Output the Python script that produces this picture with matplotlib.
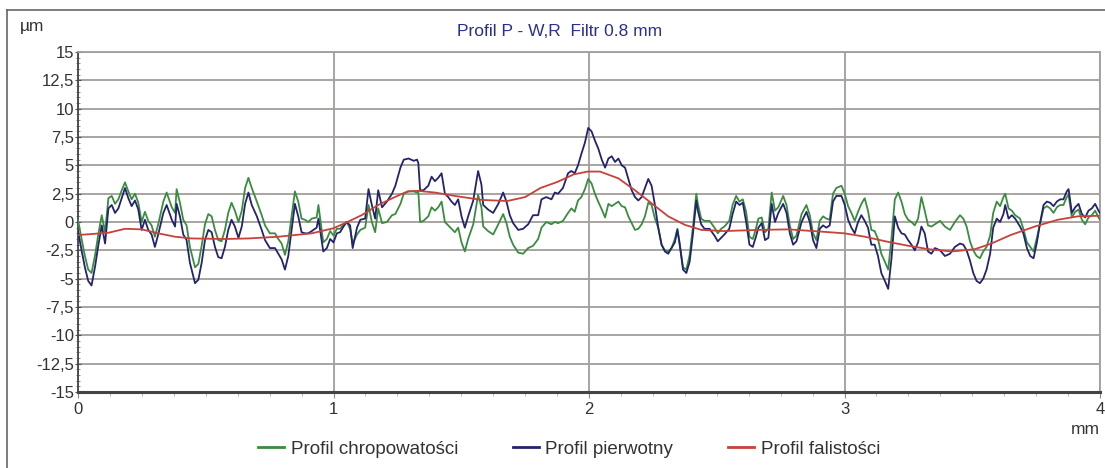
import matplotlib
matplotlib.use("Agg")
import matplotlib.pyplot as plt
from matplotlib.ticker import MultipleLocator, FuncFormatter
from matplotlib.lines import Line2D

plt.rcParams['font.family'] = ['Liberation Sans', 'DejaVu Sans']

title = "Profil P - W,R  Filtr 0.8 mm"
y_unit = "µm"
x_unit = "mm"
series_names = ["Profil chropowatości", "Profil pierwotny", "Profil falistości"]

# shared positions (mm) for primary and roughness profiles
pos_mm = [
    0.000, 0.014, 0.027, 0.040, 0.053, 0.067, 0.080, 0.093, 0.106, 0.119,
    0.132, 0.145, 0.158, 0.171, 0.184, 0.197, 0.210, 0.223, 0.236, 0.249,
    0.262, 0.275, 0.288, 0.301, 0.314, 0.334, 0.347, 0.367, 0.380, 0.386,
    0.399, 0.412, 0.425, 0.438, 0.458, 0.471, 0.484, 0.497, 0.510, 0.523,
    0.536, 0.549, 0.562, 0.575, 0.588, 0.601, 0.614, 0.628, 0.641, 0.654,
    0.667, 0.680, 0.700, 0.719, 0.732, 0.751, 0.771, 0.784, 0.797, 0.810,
    0.823, 0.836, 0.849, 0.862, 0.875, 0.888, 0.901, 0.915, 0.934, 0.941,
    0.960, 0.974, 0.987, 1.000, 1.013, 1.026, 1.039, 1.052, 1.065, 1.075,
    1.092, 1.105, 1.124, 1.137, 1.150, 1.163, 1.175, 1.190, 1.209, 1.229,
    1.242, 1.262, 1.275, 1.294, 1.314, 1.327, 1.332, 1.339, 1.352, 1.371,
    1.384, 1.397, 1.410, 1.423, 1.436, 1.449, 1.462, 1.475, 1.488, 1.501,
    1.514, 1.527, 1.547, 1.566, 1.579, 1.586, 1.605, 1.625, 1.645, 1.664,
    1.677, 1.690, 1.703, 1.723, 1.742, 1.762, 1.781, 1.801, 1.814, 1.833,
    1.853, 1.866, 1.879, 1.898, 1.918, 1.931, 1.944, 1.957, 1.970, 1.984,
    1.997, 2.010, 2.023, 2.036, 2.050, 2.063, 2.076, 2.089, 2.102, 2.115,
    2.128, 2.141, 2.154, 2.167, 2.180, 2.193, 2.206, 2.219, 2.232, 2.245,
    2.258, 2.271, 2.284, 2.297, 2.310, 2.323, 2.336, 2.346, 2.355, 2.368,
    2.381, 2.394, 2.407, 2.420, 2.426, 2.439, 2.452, 2.472, 2.491, 2.504,
    2.517, 2.530, 2.549, 2.562, 2.576, 2.589, 2.602, 2.615, 2.628, 2.641,
    2.652, 2.663, 2.676, 2.689, 2.702, 2.715, 2.728, 2.741, 2.760, 2.773,
    2.786, 2.799, 2.812, 2.832, 2.851, 2.864, 2.877, 2.890, 2.903, 2.916,
    2.929, 2.942, 2.955, 2.968, 2.988, 3.001, 3.014, 3.027, 3.040, 3.053,
    3.066, 3.079, 3.092, 3.105, 3.118, 3.131, 3.144, 3.158, 3.171, 3.184,
    3.197, 3.210, 3.223, 3.236, 3.249, 3.262, 3.275, 3.288, 3.301, 3.314,
    3.327, 3.340, 3.354, 3.374, 3.393, 3.413, 3.432, 3.452, 3.465, 3.478,
    3.491, 3.504, 3.517, 3.530, 3.543, 3.556, 3.570, 3.582, 3.596, 3.609,
    3.622, 3.629, 3.642, 3.655, 3.668, 3.687, 3.700, 3.714, 3.727, 3.740,
    3.753, 3.766, 3.779, 3.792, 3.805, 3.818, 3.831, 3.844, 3.857, 3.870,
    3.877, 3.890, 3.903, 3.916, 3.929, 3.942, 3.955, 3.968, 3.981, 3.994,
    4.000,
]

# primary profile (µm)
primary = [
    -0.8, -2.5, -4.0, -5.2, -5.6, -3.9, -2.0, -0.3, -1.9, 1.2,
    1.5, 0.8, 1.2, 2.1, 3.0, 2.1, 1.4, 1.9, 1.1, -0.7,
    0.2, -0.7, -1.1, -2.2, -1.1, 0.8, 1.5, 0.2, -0.4, 1.6,
    0.5, -1.1, -1.6, -3.6, -5.4, -5.1, -3.6, -1.6, -0.7, -0.9,
    -2.2, -3.1, -3.2, -2.2, -0.7, 0.2, -0.4, -1.4, -0.4, 1.6,
    2.6, 1.5, 0.5, -0.7, -1.6, -2.3, -2.3, -2.8, -3.3, -4.2,
    -3.0, -0.7, 1.6, 0.5, -0.9, -1.0, -1.0, -0.8, -0.5, 0.3,
    -2.6, -2.3, -1.5, -1.8, -1.0, -0.9, -0.4, 0.0, -0.3, -2.3,
    -0.5, 0.2, 0.3, 2.9, 1.5, 0.3, 2.8, 1.3, 1.8, 2.5,
    3.2, 4.8, 5.5, 5.6, 5.4, 5.5, 5.2, 2.8, 2.8, 3.2,
    4.0, 3.6, 3.9, 4.3, 2.5, 2.2, 1.8, 1.5, 2.0, 0.5,
    -0.5, 0.5, 1.9, 4.5, 3.3, 1.5, 1.1, 0.8, 1.6, 2.6,
    1.8, 0.6, -0.1, -0.7, -0.6, -0.2, 0.6, 0.6, 2.0, 2.2,
    2.0, 2.6, 2.5, 3.0, 4.3, 4.5, 4.3, 5.0, 6.0, 7.0,
    8.3, 8.0, 7.2, 6.5, 5.5, 4.8, 5.6, 5.8, 5.3, 5.6,
    5.0, 4.8, 3.8, 2.8, 2.2, 1.9, 2.2, 3.0, 3.8, 3.2,
    1.5, -0.5, -2.0, -2.6, -2.8, -2.3, -1.8, -0.7, -2.0, -4.2,
    -4.5, -3.5, -1.0, 1.9, 1.0, -0.2, -0.6, -0.6, -1.2, -1.7,
    -1.4, -1.1, -0.6, 0.7, 1.8, 1.5, 1.7, 0.0, -2.0, -2.2,
    -1.4, -0.5, -0.1, -1.6, -1.4, 1.6, 0.0, 0.8, 1.6, 0.8,
    -1.0, -2.0, -1.7, 0.0, 0.9, 0.0, -1.6, -2.3, -0.6, -0.3,
    -0.5, -0.3, 1.8, 2.3, 2.3, 1.5, 0.2, -0.5, -1.0, 0.0,
    0.6, 0.1, -0.5, -2.0, -2.0, -3.0, -4.5, -5.2, -5.9, -3.2,
    0.5, -0.5, -1.0, -1.1, -1.6, -2.0, -2.5, -1.8, -0.4, -1.0,
    -2.6, -2.8, -2.3, -2.5, -3.0, -2.8, -2.2, -1.9, -2.0, -2.5,
    -3.4, -4.5, -5.2, -5.4, -5.0, -4.2, -2.8, -0.5, 0.3, 0.0,
    0.7, 1.5, 0.3, 0.6, 0.3, -0.4, -1.0, -2.3, -3.0, -3.2,
    -1.8, 0.0, 1.5, 1.8, 1.7, 1.4, 1.8, 2.0, 2.0, 2.7,
    2.9, 0.8, 1.3, 1.6, 0.7, 0.4, 1.0, 1.2, 1.6, 1.0,
    0.8,
]

# roughness profile (µm)
roughness = [
    0.2, -1.5, -3.0, -4.2, -4.5, -2.9, -1.0, 0.6, -0.9, 2.1,
    2.3, 1.6, 2.0, 2.8, 3.5, 2.7, 2.0, 2.5, 1.7, 0.0,
    0.9, 0.1, -0.3, -1.3, -0.2, 1.8, 2.6, 1.3, 0.8, 2.9,
    1.7, 0.2, -0.3, -2.2, -4.0, -3.7, -2.1, -0.2, 0.7, 0.5,
    -0.7, -1.6, -1.7, -0.7, 0.8, 1.7, 1.0, 0.0, 1.0, 3.0,
    3.9, 3.0, 1.8, 0.6, -0.3, -1.0, -1.0, -1.5, -1.9, -2.9,
    -1.7, 0.5, 2.7, 1.8, 0.3, 0.2, 0.0, 0.3, 0.4, 1.5,
    -1.8, -1.5, -0.8, -1.2, -0.6, -0.6, -0.2, 0.0, -0.6, -1.9,
    -1.1, -0.7, -0.5, 1.5, 0.0, -0.9, 1.2, -0.1, 0.0, 0.6,
    0.7, 1.6, 2.5, 2.7, 2.7, 2.6, 2.7, 0.0, 0.1, 0.5,
    1.3, 1.0, 1.3, 1.8, 0.0, -0.3, -0.6, -0.9, -0.5, -1.8,
    -2.6, -1.5, -0.2, 2.4, 1.3, -0.4, -0.8, -1.1, -0.2, 0.7,
    -0.1, -1.3, -2.0, -2.7, -2.8, -2.3, -2.1, -1.5, -0.5, 0.0,
    -0.2, 0.0, -0.1, 0.1, 0.8, 1.2, 0.9, 1.9, 2.2, 2.9,
    3.8, 3.4, 2.5, 1.8, 1.1, 0.4, 1.6, 1.4, 1.6, 1.8,
    1.4, 1.3, 0.5, -0.1, -0.7, -0.6, -0.2, 0.5, 1.7, 1.5,
    0.3, -0.5, -2.0, -2.5, -2.6, -2.3, -1.5, -0.6, -1.9, -4.0,
    -4.2, -2.9, -0.4, 2.5, 1.6, 0.3, 0.1, 0.1, -0.5, -1.0,
    -0.6, -0.4, 0.1, 1.5, 2.3, 1.8, 2.0, 0.9, -1.3, -1.5,
    -0.7, 0.3, 0.4, -0.9, -0.6, 2.6, 1.0, 1.3, 2.3, 1.5,
    -0.3, -1.5, -1.2, 0.7, 1.5, 0.6, -1.0, -1.6, 0.1, 0.5,
    0.3, 0.2, 2.5, 3.0, 3.2, 2.5, 1.4, 0.8, 0.1, 0.9,
    1.6, 2.1, 1.0, -0.7, -0.8, -1.5, -2.8, -3.5, -4.2, -1.4,
    2.0, 2.6, 1.8, 0.7, 0.2, 0.0, -0.3, 0.3, 2.2, 1.0,
    -0.3, -0.4, -0.2, 0.1, -0.4, -0.7, 0.0, 0.6, 0.3, -0.4,
    -1.7, -2.5, -3.0, -3.2, -2.6, -2.2, -1.2, 0.8, 1.8, 1.4,
    2.2, 2.5, 1.2, 1.0, 0.6, 0.3, -0.6, -1.8, -2.2, -2.6,
    -1.4, -0.1, 1.2, 1.4, 1.2, 0.8, 1.3, 1.5, 1.5, 2.2,
    2.4, 0.4, 0.9, 1.1, 0.2, -0.2, 0.4, 0.6, 1.0, 0.4,
    0.2,
]

# waviness profile
wav_mm = [
    0.000, 0.119, 0.184, 0.249, 0.314, 0.380, 0.445, 0.575, 0.667, 0.784,
    0.915, 1.000, 1.045, 1.110, 1.175, 1.240, 1.290, 1.330, 1.397, 1.475,
    1.580, 1.680, 1.750, 1.810, 1.878, 1.940, 1.995, 2.043, 2.115, 2.180,
    2.245, 2.310, 2.375, 2.440, 2.530, 2.660, 2.780, 2.910, 3.000, 3.080,
    3.170, 3.250, 3.330, 3.420, 3.510, 3.575, 3.650, 3.745, 3.835, 3.914,
    4.000,
]
waviness = [
    -1.15, -0.95, -0.6, -0.65, -1.0, -1.3, -1.45, -1.5, -1.45, -1.3,
    -1.0, -0.55, -0.1, 0.6, 1.5, 2.2, 2.7, 2.75, 2.6, 2.3,
    1.95, 1.85, 2.2, 3.0, 3.55, 4.2, 4.45, 4.45, 3.85, 2.8,
    1.65, 0.5, -0.25, -0.7, -0.8, -0.7, -0.65, -0.85, -1.0, -1.3,
    -1.75, -2.1, -2.4, -2.6, -2.4, -1.9, -1.15, -0.4, 0.2, 0.5,
    0.55,
]

c_green = "#3a8c3f"
c_blue = "#23236e"
c_red = "#c8413a"
c_grid = "#a39d9b"
c_text = "#333333"

W, H = 1105, 468
fig = plt.figure(figsize=(W / 100, H / 100), dpi=100)
fig.patch.set_facecolor("white")

# outer frame lines
fig.add_artist(Line2D([7 / W, 7 / W], [0, 1 - 10 / H], transform=fig.transFigure, color="#666666", lw=1.2))
fig.add_artist(Line2D([7 / W, 1], [1 - 10 / H, 1 - 10 / H], transform=fig.transFigure, color="#666666", lw=1.2))

ax = fig.add_axes([78 / W, 1 - 392 / H, (1100 - 78) / W, (392 - 52) / H])
ax.set_xlim(0, 4)
ax.set_ylim(-15, 15)

ax.yaxis.set_major_locator(MultipleLocator(2.5))
ax.yaxis.set_minor_locator(MultipleLocator(0.5))
ax.xaxis.set_major_locator(MultipleLocator(1))
ax.xaxis.set_minor_locator(MultipleLocator(0.125))
ax.yaxis.set_major_formatter(FuncFormatter(lambda v, p: ("%g" % v).replace(".", ",")))
ax.xaxis.set_major_formatter(FuncFormatter(lambda v, p: "%d" % round(v)))

ax.grid(True, which="major", color=c_grid, lw=1.3)
ax.set_axisbelow(True)

for s in ["top", "right"]:
    ax.spines[s].set_color(c_grid)
    ax.spines[s].set_linewidth(1.3)
ax.spines["left"].set_color("#444444")
ax.spines["left"].set_linewidth(1.3)
ax.spines["bottom"].set_color("#444444")
ax.spines["bottom"].set_linewidth(2.2)

ax.tick_params(axis="y", which="major", length=4, direction="inout", color="#555555",
               labelsize=12, labelcolor=c_text, pad=1)
ax.tick_params(axis="y", which="minor", length=3, direction="inout", color="#777777")
ax.tick_params(axis="x", which="major", length=4, direction="out", color="#888888",
               labelsize=12, labelcolor=c_text, pad=3)
ax.tick_params(axis="x", which="minor", length=3, direction="out", color="#aaaaaa")

ax.plot(pos_mm, roughness, color=c_green, lw=1.3, zorder=3)
ax.plot(pos_mm, primary, color=c_blue, lw=1.3, zorder=4)
ax.plot(wav_mm, waviness, color=c_red, lw=1.3, zorder=5)

fig.text(560 / W, 1 - 32 / H, title, color="#2b2f8f", fontsize=12.5, ha="center", va="center")
fig.text(20 / W, 1 - 27 / H, y_unit, color=c_text, fontsize=12.5, ha="left", va="center")
fig.text(1085 / W, 1 - 430 / H, x_unit, color=c_text, fontsize=12.5, ha="center", va="center")

handles = [Line2D([], [], color=c, lw=2) for c in (c_green, c_blue, c_red)]
fig.legend(handles, series_names, loc="center", bbox_to_anchor=(569 / W, 1 - 449 / H),
           ncol=3, frameon=False, fontsize=13.5, handlelength=1.4, handletextpad=0.35,
           columnspacing=2.9, labelcolor=c_text)

fig.savefig("out.png", dpi=100, facecolor="white")
